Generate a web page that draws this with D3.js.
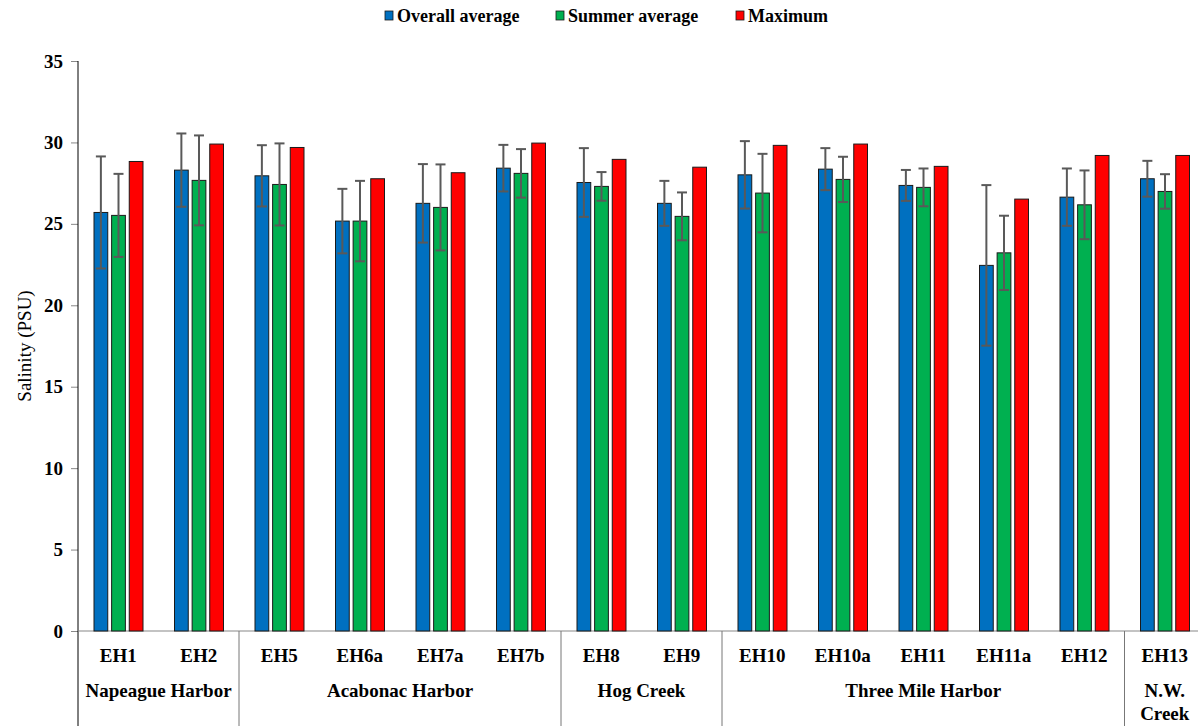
<!DOCTYPE html>
<html>
<head>
<meta charset="utf-8">
<script src="https://cdn.jsdelivr.net/npm/d3@7"></script>
<style>
  html, body { margin: 0; padding: 0; background: #fff; }
  svg { display: block; }
</style>
</head>
<body>
<svg id="chart" width="1198" height="726"></svg>
<script>
// Sampling stations
const stations = ["EH1", "EH2", "EH5", "EH6a", "EH7a", "EH7b", "EH8", "EH9",
                  "EH10", "EH10a", "EH11", "EH11a", "EH12", "EH13"];

// Salinity (PSU) per station
const overallAvg = [25.70, 28.30, 27.95, 25.17, 26.26, 28.42, 27.54, 26.26, 28.01, 28.36, 27.36, 22.45, 26.64, 27.77];
const overallSd  = [3.44, 2.25, 1.88, 1.98, 2.41, 1.43, 2.11, 1.38, 2.07, 1.29, 0.95, 4.93, 1.76, 1.10];
const summerAvg  = [25.52, 27.67, 27.42, 25.17, 26.01, 28.10, 27.30, 25.46, 26.89, 27.73, 27.24, 23.22, 26.17, 26.99];
const summerSd   = [2.55, 2.76, 2.52, 2.47, 2.64, 1.49, 0.88, 1.47, 2.41, 1.39, 1.16, 2.28, 2.11, 1.06];
const maximum    = [28.83, 29.90, 29.69, 27.77, 28.14, 29.96, 28.96, 28.48, 29.82, 29.90, 28.53, 26.52, 29.20, 29.20];

// Water bodies and the stations (first..last index) they contain
const areaNames = ["Napeague Harbor", "Acabonac Harbor", "Hog Creek", "Three Mile Harbor", "N.W.|Creek"];
const areaFirst = [0, 2, 6, 8, 13];
const areaLast  = [1, 5, 7, 12, 13];

const seriesNames = ["Overall average", "Summer average", "Maximum"];
const yTicks = [0, 5, 10, 15, 20, 25, 30, 35];

const series = [
  { key: seriesNames[0], values: overallAvg, err: overallSd, color: "#0070C0" },
  { key: seriesNames[1], values: summerAvg,  err: summerSd,  color: "#00B050" },
  { key: seriesNames[2], values: maximum,    err: null,      color: "#FF0000" }
];

const SERIF = "'Liberation Serif', Tinos, 'Times New Roman', Times, 'DejaVu Serif', serif";

const svg = d3.select("#chart").attr("font-family", SERIF);
const plotLeft = 78, plotTop = 61, plotBottom = 631, bandStep = 80.5;

const x0 = d3.scaleBand().domain(stations).range([plotLeft, plotLeft + bandStep * stations.length]).padding(0);
const x1 = d3.scaleBand().domain(seriesNames).range([16, 65]).paddingInner(0.22).paddingOuter(0);
const y = d3.scaleLinear().domain([0, 35]).range([plotBottom, plotTop]);

// Y axis
const yAxis = d3.axisLeft(y).tickValues(yTicks).tickSize(7).tickPadding(8).tickFormat(d3.format("d"));
const gy = svg.append("g").attr("transform", `translate(${plotLeft},0)`).call(yAxis)
  .attr("font-family", SERIF).attr("font-size", 19).attr("font-weight", "bold");
gy.select(".domain").remove();
gy.selectAll(".tick line").attr("stroke", "#888");
gy.selectAll(".tick text").attr("fill", "#000");
svg.append("line").attr("x1", plotLeft).attr("x2", plotLeft).attr("y1", plotTop).attr("y2", 726)
  .attr("stroke", "#000").attr("stroke-width", 1);

// Baseline
svg.append("line").attr("x1", plotLeft).attr("x2", 1198).attr("y1", y(0)).attr("y2", y(0))
  .attr("stroke", "#888").attr("stroke-width", 1.2);

// Y title
svg.append("text")
  .attr("transform", `translate(31,${(plotTop + plotBottom) / 2}) rotate(-90)`)
  .attr("text-anchor", "middle")
  .attr("font-family", SERIF)
  .attr("font-size", 19)
  .text("Salinity (PSU)");

// Bars
const groups = svg.append("g").selectAll("g")
  .data(stations)
  .join("g")
  .attr("transform", d => `translate(${x0(d)},0)`);

groups.selectAll("rect")
  .data((d, i) => series.map(s => ({ key: s.key, v: s.values[i], color: s.color })))
  .join("rect")
  .attr("x", d => x1(d.key))
  .attr("y", d => y(d.v))
  .attr("width", x1.bandwidth())
  .attr("height", d => y(0) - y(d.v))
  .attr("fill", d => d.color)
  .attr("stroke", "#1a1a1a")
  .attr("stroke-width", 1);

// Error bars
const errData = [];
stations.forEach((st, i) => {
  series.forEach(s => {
    if (s.err) errData.push({ st, key: s.key, v: s.values[i], e: s.err[i] });
  });
});
const eg = svg.append("g").attr("stroke", "#595959").attr("stroke-width", 2);
errData.forEach(d => {
  const cx = x0(d.st) + x1(d.key) + x1.bandwidth() / 2;
  const y1 = y(d.v + d.e), y2 = y(d.v - d.e);
  eg.append("line").attr("x1", cx).attr("x2", cx).attr("y1", y1).attr("y2", y2);
  eg.append("line").attr("x1", cx - 5).attr("x2", cx + 5).attr("y1", y1).attr("y2", y1);
  eg.append("line").attr("x1", cx - 5).attr("x2", cx + 5).attr("y1", y2).attr("y2", y2);
});

// Station labels
svg.append("g").attr("font-family", SERIF).attr("font-size", 19).attr("font-weight", "bold")
  .selectAll("text")
  .data(stations)
  .join("text")
  .attr("x", d => x0(d) + x0.bandwidth() / 2)
  .attr("y", 662)
  .attr("text-anchor", "middle")
  .text(d => d);

// Area labels and separators
areaNames.forEach((name, i) => {
  const a = x0(stations[areaFirst[i]]);
  const b = x0(stations[areaLast[i]]) + x0.bandwidth();
  const cx = (a + b) / 2;
  const lines = name.split("|");
  const t = svg.append("text").attr("text-anchor", "middle")
    .attr("font-family", SERIF).attr("font-size", 19).attr("font-weight", "bold");
  lines.forEach((ln, k) => {
    t.append("tspan").attr("x", cx).attr("y", 697 + k * 23).text(ln);
  });
  if (i > 0) {
    svg.append("line").attr("x1", a).attr("x2", a).attr("y1", y(0)).attr("y2", 726)
      .attr("stroke", "#777").attr("stroke-width", 1);
  }
});

// Legend
const legendX = [385, 556, 736];
const lg = svg.append("g").attr("font-family", SERIF).attr("font-size", 18).attr("font-weight", "bold");
series.forEach((s, i) => {
  lg.append("rect").attr("x", legendX[i]).attr("y", 11).attr("width", 8).attr("height", 9)
    .attr("fill", s.color).attr("stroke", "#1a1a1a").attr("stroke-width", 0.8);
  lg.append("text").attr("x", legendX[i] + 12).attr("y", 22).text(s.key);
});
</script>
</body>
</html>
